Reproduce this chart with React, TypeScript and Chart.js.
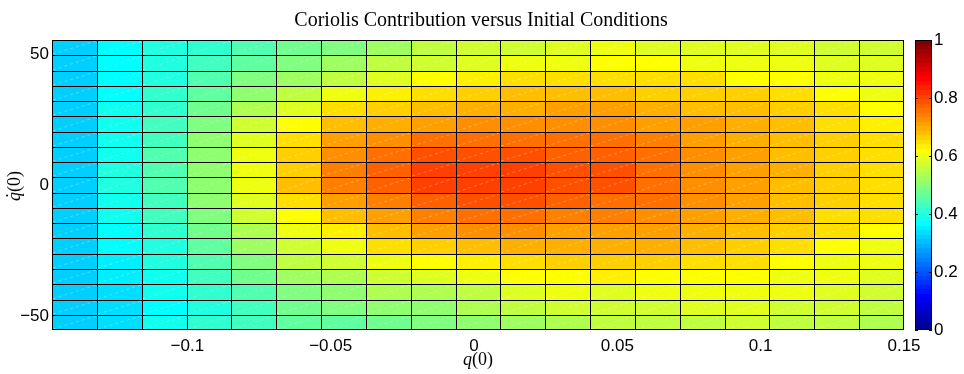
import React, { useEffect, useRef } from 'react';
import { Chart, registerables } from 'chart.js';

Chart.register(...registerables);

const TITLE = 'Coriolis Contribution versus Initial Conditions';

// Cell boundaries along q(0)
const qEdges = [
  -0.1472, -0.13156, -0.11592, -0.10027, -0.08463, -0.06899, -0.05335, -0.03771,
  -0.02206, -0.00642, 0.00922, 0.02486, 0.04051, 0.05615, 0.07179, 0.08743,
  0.10307, 0.11872, 0.13436, 0.15,
];

// Cell boundaries along q̇(0)
const qdotEdges = [
  -55.3, -49.48, -43.66, -37.84, -32.02, -26.2, -20.37, -14.55, -8.73, -2.91,
  2.91, 8.73, 14.55, 20.37, 26.2, 32.02, 37.84, 43.66, 49.48, 55.3,
];

const qTicks = [-0.1, -0.05, 0, 0.05, 0.1, 0.15];
const qdotTicks = [-50, 0, 50];
const colorbarTicks = [0, 0.2, 0.4, 0.6, 0.8, 1];

// Coriolis contribution; the first row is the largest q̇(0), the last the smallest.
// Columns follow qEdges from left to right.
const coriolis: number[][] = [
  [0.335, 0.375, 0.406, 0.427, 0.458, 0.481, 0.500, 0.524, 0.563, 0.571, 0.579, 0.595, 0.602, 0.595, 0.595, 0.595, 0.595, 0.579, 0.571],
  [0.335, 0.375, 0.411, 0.438, 0.469, 0.500, 0.532, 0.555, 0.571, 0.595, 0.610, 0.610, 0.625, 0.625, 0.610, 0.610, 0.602, 0.595, 0.595],
  [0.335, 0.375, 0.406, 0.453, 0.500, 0.532, 0.563, 0.587, 0.625, 0.640, 0.663, 0.655, 0.659, 0.655, 0.651, 0.625, 0.625, 0.610, 0.602],
  [0.335, 0.375, 0.422, 0.469, 0.516, 0.563, 0.610, 0.644, 0.655, 0.671, 0.687, 0.683, 0.687, 0.679, 0.675, 0.667, 0.651, 0.625, 0.610],
  [0.330, 0.391, 0.422, 0.485, 0.548, 0.595, 0.652, 0.675, 0.691, 0.702, 0.710, 0.714, 0.714, 0.706, 0.695, 0.683, 0.671, 0.651, 0.625],
  [0.330, 0.391, 0.430, 0.493, 0.571, 0.625, 0.687, 0.702, 0.722, 0.742, 0.738, 0.738, 0.738, 0.726, 0.714, 0.699, 0.683, 0.663, 0.644],
  [0.330, 0.396, 0.438, 0.508, 0.587, 0.659, 0.712, 0.742, 0.765, 0.773, 0.769, 0.769, 0.769, 0.750, 0.726, 0.710, 0.691, 0.671, 0.655],
  [0.330, 0.396, 0.446, 0.516, 0.610, 0.679, 0.730, 0.765, 0.797, 0.797, 0.793, 0.789, 0.785, 0.765, 0.738, 0.718, 0.695, 0.675, 0.659],
  [0.330, 0.399, 0.446, 0.516, 0.610, 0.679, 0.745, 0.781, 0.812, 0.816, 0.812, 0.800, 0.793, 0.769, 0.742, 0.722, 0.699, 0.675, 0.663],
  [0.330, 0.399, 0.446, 0.512, 0.604, 0.687, 0.745, 0.777, 0.812, 0.816, 0.808, 0.797, 0.793, 0.769, 0.742, 0.718, 0.695, 0.675, 0.663],
  [0.330, 0.396, 0.443, 0.508, 0.587, 0.663, 0.715, 0.753, 0.785, 0.797, 0.797, 0.781, 0.769, 0.761, 0.734, 0.714, 0.691, 0.671, 0.655],
  [0.330, 0.391, 0.438, 0.500, 0.571, 0.625, 0.695, 0.726, 0.757, 0.769, 0.769, 0.757, 0.746, 0.742, 0.726, 0.702, 0.683, 0.663, 0.651],
  [0.330, 0.375, 0.427, 0.485, 0.548, 0.602, 0.648, 0.687, 0.718, 0.734, 0.730, 0.722, 0.722, 0.718, 0.706, 0.687, 0.671, 0.655, 0.625],
  [0.325, 0.368, 0.414, 0.469, 0.524, 0.579, 0.610, 0.655, 0.679, 0.687, 0.699, 0.699, 0.702, 0.699, 0.687, 0.671, 0.659, 0.625, 0.610],
  [0.325, 0.358, 0.406, 0.446, 0.500, 0.555, 0.583, 0.602, 0.625, 0.648, 0.655, 0.675, 0.671, 0.671, 0.663, 0.655, 0.625, 0.610, 0.602],
  [0.325, 0.352, 0.391, 0.430, 0.477, 0.532, 0.552, 0.571, 0.587, 0.610, 0.625, 0.625, 0.640, 0.625, 0.625, 0.618, 0.610, 0.602, 0.595],
  [0.325, 0.350, 0.383, 0.422, 0.453, 0.500, 0.516, 0.540, 0.548, 0.563, 0.587, 0.602, 0.595, 0.602, 0.602, 0.602, 0.602, 0.587, 0.579],
  [0.325, 0.345, 0.375, 0.414, 0.438, 0.485, 0.500, 0.508, 0.516, 0.540, 0.555, 0.571, 0.571, 0.579, 0.587, 0.587, 0.579, 0.571, 0.563],
  [0.325, 0.345, 0.391, 0.422, 0.438, 0.469, 0.473, 0.485, 0.493, 0.516, 0.532, 0.548, 0.555, 0.563, 0.563, 0.571, 0.563, 0.555, 0.548],
];

const JET_LEVELS = 64;

// Classic 64-level jet colour map; level runs 1..64
function jetRgb(level: number): [number, number, number] {
  const i = level;
  const r = i <= 24 ? 0 : i <= 40 ? (i - 24) / 16 : i <= 56 ? 1 : 1 - (i - 56) / 16;
  const g = i <= 8 ? 0 : i <= 24 ? (i - 8) / 16 : i <= 40 ? 1 : i <= 56 ? 1 - (i - 40) / 16 : 0;
  const b = i <= 8 ? 0.5 + i / 16 : i <= 24 ? 1 : i <= 40 ? 1 - (i - 24) / 16 : 0;
  return [Math.round(r * 255), Math.round(g * 255), Math.round(b * 255)];
}

function jetColor(v: number): string {
  const level = Math.min(JET_LEVELS, Math.max(1, Math.round(v * JET_LEVELS)));
  const [r, g, b] = jetRgb(level);
  return `rgb(${r},${g},${b})`;
}

const fmtTick = (v: number) => String(Number(v.toFixed(4))).replace('-', '\u2212');

const TICK_FONT = { family: '"Liberation Sans", Arial, sans-serif', size: 17 };

// Draws the pcolor-style cells, their outlines and the colour bar.
const heatmapPlugin = {
  id: 'coriolisHeatmap',
  beforeDatasetsDraw(chart: any) {
    const { ctx, chartArea } = chart;
    const xs = chart.scales.x;
    const ys = chart.scales.y;
    const cb = chart.scales.cb;
    const nRows = coriolis.length;

    const px = qEdges.map((e) => Math.round(xs.getPixelForValue(e)));
    const py = qdotEdges.map((e) => Math.round(ys.getPixelForValue(e)));

    ctx.save();
    // cells
    for (let r = 0; r < nRows; r++) {
      const k = nRows - 1 - r; // row r sits between qdotEdges[k] and qdotEdges[k+1]
      const yTop = py[k + 1];
      const yBot = py[k];
      for (let c = 0; c < coriolis[r].length; c++) {
        ctx.fillStyle = jetColor(coriolis[r][c]);
        ctx.fillRect(px[c], yTop, px[c + 1] - px[c], yBot - yTop);
      }
    }

    // faint diagonal seams inside each cell
    ctx.strokeStyle = 'rgba(255,255,255,0.3)';
    ctx.lineWidth = 1;
    ctx.setLineDash([3, 3]);
    ctx.beginPath();
    for (let k = 0; k < nRows; k++) {
      for (let c = 0; c < qEdges.length - 1; c++) {
        ctx.moveTo(px[c] + 1, py[k] - 1);
        ctx.lineTo(px[c + 1] - 1, py[k + 1] + 1);
      }
    }
    ctx.stroke();
    ctx.setLineDash([]);

    // cell outlines
    ctx.fillStyle = '#000';
    const left = Math.round(chartArea.left);
    const right = Math.round(chartArea.right);
    const top = Math.round(chartArea.top);
    const bottom = Math.round(chartArea.bottom);
    px.forEach((x) => {
      const col = Math.min(x, right - 1);
      ctx.fillRect(col, top, 1, bottom - top);
    });
    py.forEach((y) => {
      const row = Math.min(y, bottom - 1);
      ctx.fillRect(left, row, right - left, 1);
    });

    // colour bar
    const cbLeft = 915;
    const cbRight = 932;
    for (let i = 1; i <= JET_LEVELS; i++) {
      const y0 = Math.round(cb.getPixelForValue(i / JET_LEVELS));
      const y1 = Math.round(cb.getPixelForValue((i - 1) / JET_LEVELS));
      const [r, g, b] = jetRgb(i);
      ctx.fillStyle = `rgb(${r},${g},${b})`;
      ctx.fillRect(cbLeft, y0, cbRight - cbLeft, y1 - y0);
    }
    ctx.strokeStyle = '#000';
    ctx.lineWidth = 1;
    ctx.strokeRect(cbLeft + 0.5, top + 0.5, cbRight - cbLeft - 1, bottom - top - 1);
    ctx.beginPath();
    colorbarTicks.forEach((t) => {
      const y = Math.round(cb.getPixelForValue(t)) + 0.5;
      ctx.moveTo(cbLeft, y);
      ctx.lineTo(cbLeft + 3, y);
      ctx.moveTo(cbRight, y);
      ctx.lineTo(cbRight - 3, y);
    });
    ctx.stroke();
    ctx.restore();
  },
};

function drawMathLabel(ctx: CanvasRenderingContext2D, x: number, y: number, dotted: boolean) {
  const italic = 'italic 18px "Liberation Serif", "Times New Roman", serif';
  const upright = '18px "Liberation Serif", "Times New Roman", serif';
  ctx.font = italic;
  const wq = ctx.measureText('q').width;
  ctx.font = upright;
  const wr = ctx.measureText('(0)').width;
  const start = x - (wq + wr) / 2;
  ctx.textAlign = 'left';
  ctx.textBaseline = 'alphabetic';
  ctx.font = italic;
  ctx.fillText('q', start, y);
  if (dotted) {
    ctx.font = upright;
    ctx.textAlign = 'center';
    ctx.fillText('\u02D9', start + wq / 2 + 1, y - 1);
    ctx.textAlign = 'left';
  }
  ctx.font = upright;
  ctx.fillText('(0)', start + wq, y);
}

// Title and axis labels
const textPlugin = {
  id: 'coriolisText',
  afterDraw(chart: any) {
    const { ctx, chartArea } = chart;
    const cx = (chartArea.left + chartArea.right) / 2;
    ctx.save();
    ctx.fillStyle = '#000';
    ctx.font = '20px "Liberation Serif", "Times New Roman", serif';
    ctx.textAlign = 'center';
    ctx.textBaseline = 'alphabetic';
    ctx.fillText(TITLE, cx + 3, 26);

    drawMathLabel(ctx, cx, 365, false);

    ctx.translate(20, (chartArea.top + chartArea.bottom) / 2 + 1);
    ctx.rotate(-Math.PI / 2);
    drawMathLabel(ctx, 0, 0, true);
    ctx.restore();
  },
};

export default function App() {
  const canvasRef = useRef<HTMLCanvasElement>(null);

  useEffect(() => {
    if (!canvasRef.current) return;
    const chart = new Chart(canvasRef.current, {
      type: 'scatter',
      data: { datasets: [{ data: [], pointRadius: 0 }] },
      options: {
        responsive: false,
        animation: false,
        events: [],
        layout: { padding: { top: 37, left: 0, right: 0, bottom: 0 } },
        plugins: {
          legend: { display: false },
          tooltip: { enabled: false },
          title: { display: false },
        },
        scales: {
          x: {
            type: 'linear',
            min: qEdges[0],
            max: qEdges[qEdges.length - 1],
            afterBuildTicks: (s: any) => {
              s.ticks = qTicks.map((v) => ({ value: v }));
            },
            afterFit: (s: any) => {
              s.height = 44;
            },
            grid: { display: false, drawTicks: false },
            border: { display: false },
            ticks: {
              autoSkip: false,
              maxRotation: 0,
              padding: 6,
              color: '#000',
              font: TICK_FONT,
              callback: (v: any) => fmtTick(Number(v)),
            },
          },
          y: {
            type: 'linear',
            position: 'left',
            min: qdotEdges[0],
            max: qdotEdges[qdotEdges.length - 1],
            afterBuildTicks: (s: any) => {
              s.ticks = qdotTicks.map((v) => ({ value: v }));
            },
            afterFit: (s: any) => {
              s.width = 52;
            },
            grid: { display: false, drawTicks: false },
            border: { display: false },
            ticks: {
              autoSkip: false,
              padding: 3,
              color: '#000',
              font: TICK_FONT,
              callback: (v: any) => fmtTick(Number(v)),
            },
          },
          cb: {
            type: 'linear',
            position: 'right',
            min: 0,
            max: 1,
            afterBuildTicks: (s: any) => {
              s.ticks = colorbarTicks.map((v) => ({ value: v }));
            },
            afterFit: (s: any) => {
              s.width = 60;
            },
            grid: { display: false, drawTicks: false },
            border: { display: false },
            ticks: {
              autoSkip: false,
              padding: 30,
              color: '#000',
              font: TICK_FONT,
              callback: (v: any) => fmtTick(Number(v)),
            },
          },
        },
      },
      plugins: [heatmapPlugin, textPlugin],
    } as any);
    return () => chart.destroy();
  }, []);

  return (
    <div style={{ position: 'fixed', left: 0, top: 0, width: 964, height: 374, background: '#fff' }}>
      <canvas ref={canvasRef} width={964} height={374} style={{ display: 'block', width: 964, height: 374 }} />
    </div>
  );
}
